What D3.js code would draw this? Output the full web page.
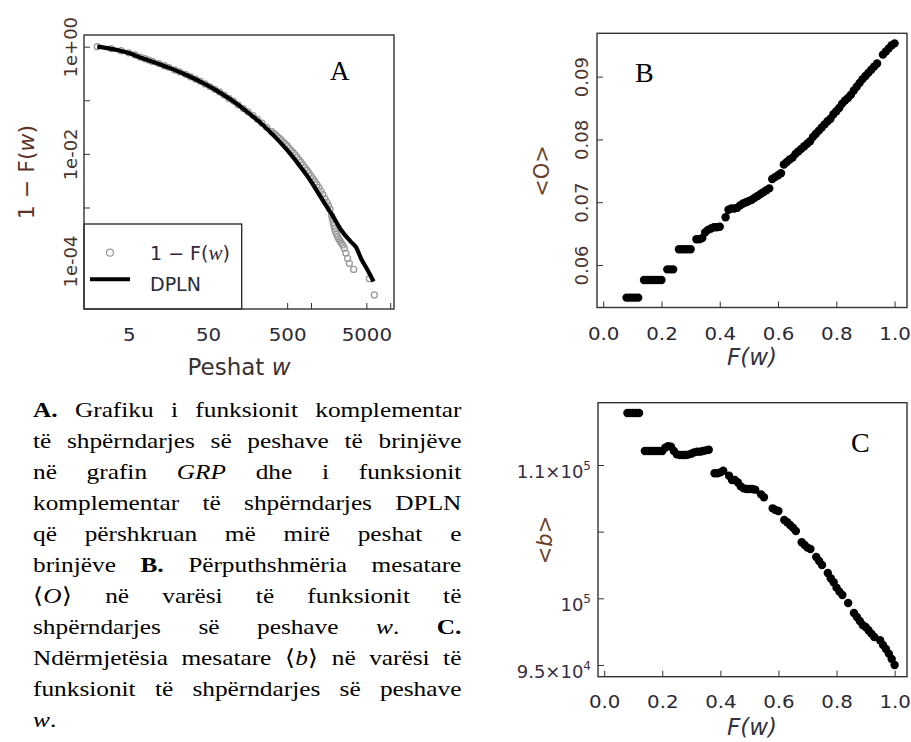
<!DOCTYPE html>
<html>
<head>
<meta charset="utf-8">
<script src="https://cdn.jsdelivr.net/npm/d3@7"></script>
<style>
  body { margin: 0; background: #fff; }
  #wrap { position: relative; width: 911px; height: 742px; overflow: hidden; background: #fff; }
  svg { position: absolute; left: 0; top: 0; }
  .cap { position: absolute; left: 33.3px; top: 394.4px; width: 372.5px;
         transform: scaleX(1.15); transform-origin: 0 0;
         font-family: 'Liberation Serif', 'Times New Roman', serif; font-size: 22px; color: #000; }
  .cap div { height: 30.94px; line-height: 31px; text-align: justify; text-align-last: justify; }
  .cap div.last { text-align-last: left; }
</style>
</head>
<body>
<div id="wrap">
<svg width="911" height="742"></svg>
<div class="cap">
  <div><b>A.</b> Grafiku i funksionit komplementar</div>
  <div>të shpërndarjes së peshave të brinjëve</div>
  <div>në grafin <i>GRP</i> dhe i funksionit</div>
  <div>komplementar të shpërndarjes DPLN</div>
  <div>që përshkruan më mirë peshat e</div>
  <div>brinjëve <b>B.</b> Përputhshmëria mesatare</div>
  <div>⟨<i>O</i>⟩ në varësi të funksionit të</div>
  <div>shpërndarjes së peshave <i>w</i>. <b>C.</b></div>
  <div>Ndërmjetësia mesatare ⟨<i>b</i>⟩ në varësi të</div>
  <div>funksionit të shpërndarjes së peshave</div>
  <div class="last"><i>w</i>.</div>
</div>
</div>
<script>
// panel A: empirical 1-F(w) (gray circles) and DPLN fit (black line)
const grayW = [2,3,4,5,6,7,8,9,10,12,14,16,19,22,26,30,35,40,46,53,61,70,80,92,105,120,140,160,185,210,240,275,
  316,335,355,376,398,422,447,473,501,531,562,596,631,668,708,750,794,841,891,944,1000,1059,1122,1189,1259,1334,1413,1496,1585,1660,1738,
  1820,1862,1905,1950,1995,2042,2089,2163,2239,2317,2399,2512,2630,2750,2900,3050,3460,5460,6310];
const grayP = [1.0,0.922,0.841,0.767,0.699,0.638,0.596,0.562,0.531,0.484,0.441,0.412,0.367,0.339,0.305,0.275,0.248,0.226,0.202,0.180,0.160,0.143,0.125,0.108,0.0966,0.0822,0.0699,0.0610,0.0519,0.0441,0.0376,0.0313,
  0.0263,0.0245,0.0229,0.0211,0.0195,0.0180,0.0166,0.0153,0.0141,0.0127,0.0115,0.0105,0.00955,0.00861,0.00776,0.00692,0.00617,0.00550,0.00490,0.00437,0.00389,0.00343,0.00302,0.00266,0.00234,0.00202,0.00174,0.00148,0.00126,0.00108,0.000933,
  0.000708,0.000610,0.000525,0.000457,0.000398,0.000359,0.000324,0.000285,0.000260,0.000240,0.000219,0.000200,0.000174,0.000141,0.000112,0.000091,0.000070,0.0000469,0.0000234];
const dplnW = [2,3,4,5,7,10,16,25,40,63,100,158,251,339,501,708,912,1175,1479,1905,2399,3199,3698,4285,5200,6166];
const dplnP = [1.0,0.912,0.832,0.759,0.631,0.525,0.407,0.309,0.224,0.155,0.100,0.0603,0.0339,0.0219,0.0117,0.00617,0.00372,0.00209,0.00120,0.000676,0.000380,0.000229,0.000182,0.000112,0.0000676,0.0000417];
const xTicksA = [5,10,50,100,500,1000,5000,10000];
const xLabelsA = ['5','','50','','500','','5000',''];
const yTicksA = [1,0.1,0.01,0.001,0.0001];
const yLabelsA = ['1e+00','','1e-02','','1e-04'];

// panel B: mean overlap <O> vs F(w)
const fB = [0.08,0.09,0.10,0.11,0.12,0.14,0.15,0.16,0.17,0.18,0.19,0.20,0.22,0.23,0.24,0.26,0.27,0.28,0.29,0.30,0.32,0.33,0.34,0.35,0.36,0.37,0.38,0.39,0.40,0.42,0.43,0.44,0.45,0.46,0.47,0.48,0.49,0.50,0.51,0.52,0.53,0.54,0.55,0.56,0.57,0.58,0.59,0.60,0.61,0.62,0.63,0.64,0.65,0.66,0.67,0.68,0.69,0.70,0.71,0.72,0.73,0.74,0.75,0.76,0.77,0.78,0.79,0.80,0.81,0.82,0.83,0.84,0.85,0.86,0.87,0.88,0.89,0.90,0.91,0.92,0.93,0.94,0.96,0.97,0.98,0.99,1.00];
const oB = [0.0548,0.0548,0.0548,0.0548,0.0548,0.0576,0.0576,0.0576,0.0576,0.0576,0.0576,0.0576,0.0593,0.0593,0.0593,0.0625,0.0625,0.0625,0.0625,0.0625,0.0641,0.0641,0.0643,0.0652,0.0656,0.0658,0.0660,0.0660,0.0661,0.0676,0.0688,0.0690,0.0690,0.0691,0.0695,0.0698,0.0700,0.0702,0.0704,0.0707,0.0710,0.0713,0.0716,0.0719,0.0722,0.0737,0.0740,0.0743,0.0746,0.0760,0.0764,0.0768,0.0771,0.0777,0.0781,0.0785,0.0789,0.0793,0.0797,0.0804,0.0809,0.0814,0.0819,0.0824,0.0829,0.0833,0.0840,0.0845,0.0850,0.0857,0.0862,0.0866,0.0871,0.0878,0.0884,0.0890,0.0896,0.0901,0.0906,0.0911,0.0916,0.0921,0.0935,0.0940,0.0945,0.0950,0.0953];
const yTicksB = [0.06,0.07,0.08,0.09];

// panel C: mean betweenness <b> vs F(w)
const fC = [0.08,0.09,0.10,0.11,0.12,0.14,0.15,0.16,0.17,0.18,0.19,0.20,0.21,0.22,0.23,0.24,0.25,0.26,0.27,0.28,0.29,0.30,0.31,0.32,0.33,0.34,0.35,0.36,0.38,0.39,0.40,0.41,0.43,0.44,0.45,0.46,0.47,0.48,0.49,0.50,0.51,0.52,0.54,0.55,0.58,0.59,0.60,0.62,0.63,0.64,0.65,0.66,0.68,0.69,0.70,0.71,0.73,0.74,0.75,0.77,0.78,0.79,0.80,0.81,0.82,0.84,0.86,0.87,0.88,0.89,0.90,0.91,0.92,0.93,0.95,0.96,0.97,0.98,0.99,1.00];
const bC = [113900,113900,113900,113900,113900,111050,111050,111050,111050,111050,111050,111050,111300,111420,111380,111050,110800,110750,110750,110750,110780,110850,110950,111000,111000,111050,111100,111150,109380,109380,109450,109570,109200,108870,108870,108700,108400,108250,108200,108200,108200,108150,107800,107580,106750,106620,106550,105870,105700,105500,105300,105050,104200,104000,103800,103700,103100,102800,102500,101900,101500,101200,100800,100500,100250,99650,98900,98600,98300,98000,97850,97600,97350,97100,96850,96500,96200,95850,95450,95000];
const yTicksC = [95000,100000,105000,110000];
const yLabelsC = ['9.5×10','10','','1.1×10'];
const yExpC = ['4','5','','5'];

const xTicksBC = [0,0.2,0.4,0.6,0.8,1.0];

const svg = d3.select('svg');
const sans = 'DejaVu Sans, Verdana, sans-serif';
const serif = 'Liberation Serif, Times New Roman, serif';
const tickCol = '#2a2a36';
const rotCol = '#4a3328';

// bottom tick labels, a touch wider like the original
const styleBottom = (g, y) => {
  g.select('.domain').remove();
  g.attr('font-family', sans).attr('font-size', 18);
  g.selectAll('line').attr('stroke', '#333');
  g.selectAll('text').attr('y', y).attr('dy', 0).attr('fill', tickCol)
    .attr('transform', 'scale(1.1,1)');
};

// ---------- A ----------
const xA = d3.scaleLog().domain([1.36, 11170]).range([84, 394]);
const yA = d3.scaleLog().domain([1.652, 1.277e-5]).range([35, 309]);

svg.append('g').selectAll('circle').data(grayW)
  .enter().append('circle')
    .attr('cx', d => xA(d))
    .attr('cy', (d, i) => yA(grayP[i]))
    .attr('r', 3)
    .attr('fill', 'none')
    .attr('stroke', '#999')
    .attr('stroke-width', 1.3);

const lineA = d3.line()
  .x(d => xA(d))
  .y((d, i) => yA(dplnP[i]))
  .curve(d3.curveMonotoneX);
svg.append('path').datum(dplnW)
  .attr('d', lineA)
  .attr('fill', 'none')
  .attr('stroke', '#000')
  .attr('stroke-width', 4.2);

const gxA = svg.append('g').attr('transform', 'translate(0,309)')
  .call(d3.axisBottom(xA).tickValues(xTicksA).tickSize(-6)
    .tickFormat((d, i) => xLabelsA[i]));
styleBottom(gxA, 31.7);

const gyA = svg.append('g').attr('transform', 'translate(84,0)')
  .call(d3.axisLeft(yA).tickValues(yTicksA).tickSize(-6)
    .tickFormat((d, i) => yLabelsA[i]));
gyA.select('.domain').remove();
gyA.attr('font-family', sans).attr('font-size', 18);
gyA.selectAll('line').attr('stroke', '#333');
gyA.selectAll('text')
  .attr('x', 0).attr('y', 0).attr('dy', 0)
  .attr('text-anchor', 'middle')
  .attr('transform', 'translate(-7,0) rotate(-90)')
  .attr('fill', rotCol);

// legend
svg.append('rect').attr('x', 84).attr('y', 224).attr('width', 157.7).attr('height', 85)
  .attr('fill', '#fff').attr('stroke', '#222').attr('stroke-width', 1.3);
svg.append('circle').attr('cx', 110).attr('cy', 252.7).attr('r', 3.5)
  .attr('fill', 'none').attr('stroke', '#999').attr('stroke-width', 1.2);
const lg1 = svg.append('text').attr('x', 150).attr('y', 260)
  .attr('font-family', sans).attr('font-size', 19).attr('fill', '#30283a');
lg1.append('tspan').text('1 − F(');
lg1.append('tspan').text('w').attr('font-family', serif).attr('font-style', 'italic').attr('font-size', 21);
lg1.append('tspan').text(')');
svg.append('line').attr('x1', 90).attr('x2', 130).attr('y1', 279.3).attr('y2', 279.3)
  .attr('stroke', '#000').attr('stroke-width', 4);
svg.append('text').attr('x', 150).attr('y', 291).text('DPLN')
  .attr('font-family', sans).attr('font-size', 19).attr('fill', '#262a3a');

svg.append('rect').attr('x', 84).attr('y', 35).attr('width', 310).attr('height', 274)
  .attr('fill', 'none').attr('stroke', '#333').attr('stroke-width', 1.4);

svg.append('text').attr('x', 330).attr('y', 80).text('A')
  .attr('font-family', serif).attr('font-size', 27).attr('fill', '#000');

const xtA = svg.append('text').attr('x', 239).attr('y', 375).attr('text-anchor', 'middle')
  .attr('font-family', sans).attr('font-size', 23).attr('fill', '#3a3030');
xtA.append('tspan').text('Peshat ');
xtA.append('tspan').text('w').attr('font-style', 'italic');

const ytA = svg.append('text').attr('transform', 'translate(33.5,172) rotate(-90)')
  .attr('text-anchor', 'middle').attr('font-family', sans).attr('font-size', 22).attr('fill', '#5a3328');
ytA.append('tspan').text('1 − F(');
ytA.append('tspan').text('w').attr('font-style', 'italic');
ytA.append('tspan').text(')');

// ---------- B ----------
const xB = d3.scaleLinear().domain([-0.0213, 1.0426]).range([597, 907]);
const yB = d3.scaleLinear().domain([0.05323, 0.0969]).range([307.5, 33.3]);

svg.append('g').selectAll('circle').data(fB)
  .enter().append('circle')
    .attr('cx', d => xB(d))
    .attr('cy', (d, i) => yB(oB[i]))
    .attr('r', 4.2)
    .attr('fill', '#000');

const gxB = svg.append('g').attr('transform', 'translate(0,307.5)')
  .call(d3.axisBottom(xB).tickValues(xTicksBC).tickSize(-6).tickFormat(d3.format('.1f')));
styleBottom(gxB, 32.5);

const gyB = svg.append('g').attr('transform', 'translate(597,0)')
  .call(d3.axisLeft(yB).tickValues(yTicksB).tickSize(-6).tickFormat(d3.format('.2f')));
gyB.select('.domain').remove();
gyB.attr('font-family', sans).attr('font-size', 18);
gyB.selectAll('line').attr('stroke', '#333');
gyB.selectAll('text')
  .attr('x', 0).attr('y', 0).attr('dy', 0)
  .attr('text-anchor', 'middle')
  .attr('transform', 'translate(-9,0) rotate(-90)')
  .attr('fill', rotCol);

svg.append('rect').attr('x', 597).attr('y', 33.3).attr('width', 310).attr('height', 274.2)
  .attr('fill', 'none').attr('stroke', '#333').attr('stroke-width', 1.4);

svg.append('text').attr('x', 635).attr('y', 81.7).text('B')
  .attr('font-family', serif).attr('font-size', 28).attr('fill', '#000');

svg.append('text').attr('x', 752).attr('y', 365).attr('text-anchor', 'middle')
  .attr('font-family', sans).attr('font-size', 23).attr('font-style', 'italic')
  .attr('fill', '#33333f').text('F(w)');

svg.append('text').attr('transform', 'translate(549,171) rotate(-90)')
  .attr('text-anchor', 'middle').attr('font-family', sans).attr('font-size', 21)
  .attr('fill', '#6a4028').text('<O>');

// ---------- C ----------
const xC = d3.scaleLinear().domain([-0.0213, 1.0426]).range([598, 907]);
const yC = d3.scaleLinear().domain([94119, 114674]).range([676.7, 402.7]);

svg.append('g').selectAll('circle').data(fC)
  .enter().append('circle')
    .attr('cx', d => xC(d))
    .attr('cy', (d, i) => yC(bC[i]))
    .attr('r', 4.2)
    .attr('fill', '#000');

const gxC = svg.append('g').attr('transform', 'translate(0,676.7)')
  .call(d3.axisBottom(xC).tickValues(xTicksBC).tickSize(-6).tickFormat(d3.format('.1f')));
styleBottom(gxC, 31.6);

const gyC = svg.append('g').attr('transform', 'translate(598,0)')
  .call(d3.axisLeft(yC).tickValues(yTicksC).tickSize(-6).tickFormat(''));
gyC.select('.domain').remove();
gyC.selectAll('line').attr('stroke', '#333');
gyC.selectAll('.tick').each(function(d, i) {
  if (!yLabelsC[i]) return;
  const t = d3.select(this).append('text')
    .attr('x', -7).attr('y', 12.5)
    .attr('text-anchor', 'end')
    .attr('font-family', sans).attr('font-size', 18)
    .attr('fill', '#3a2c40');
  t.append('tspan').text(yLabelsC[i]);
  t.append('tspan').text(yExpC[i]).attr('font-size', 12).attr('dy', -8);
});

svg.append('rect').attr('x', 598).attr('y', 402.7).attr('width', 309).attr('height', 274)
  .attr('fill', 'none').attr('stroke', '#333').attr('stroke-width', 1.4);

svg.append('text').attr('x', 851).attr('y', 452).text('C')
  .attr('font-family', serif).attr('font-size', 28).attr('fill', '#000');

svg.append('text').attr('x', 752).attr('y', 735).attr('text-anchor', 'middle')
  .attr('font-family', sans).attr('font-size', 23).attr('font-style', 'italic')
  .attr('fill', '#33333f').text('F(w)');

const ytC = svg.append('text').attr('transform', 'translate(552,540) rotate(-90)')
  .attr('text-anchor', 'middle').attr('font-family', sans).attr('font-size', 21)
  .attr('fill', '#6a4028');
ytC.append('tspan').text('<');
ytC.append('tspan').text('b').attr('font-style', 'italic');
ytC.append('tspan').text('>');
</script>
</body>
</html>
